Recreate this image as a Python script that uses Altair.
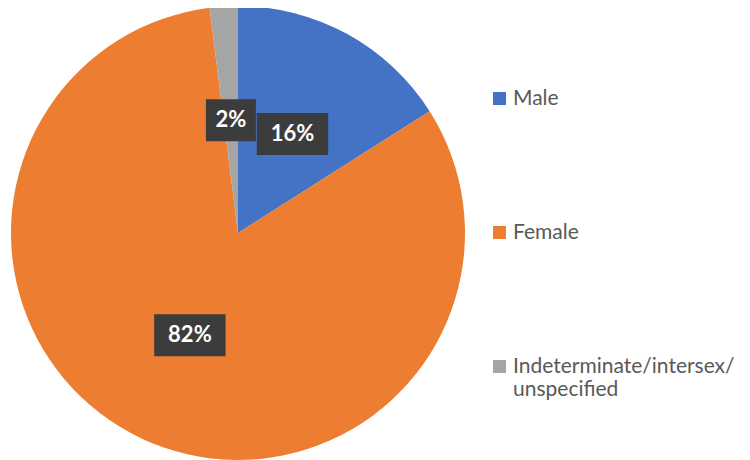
import altair as alt
import pandas as pd

categories = ["Male", "Female", "Indeterminate/intersex/unspecified"]
shares = [16, 82, 2]
labels = ["16%", "82%", "2%"]
colors = ["#4472C4", "#ED7D31", "#A5A5A5"]

df = pd.DataFrame({
    "category": categories,
    "share": shares,
    "label": labels,
    "order": list(range(len(categories))),
})

W, H, R, LR = 454, 450, 227, 113
NARROW = "M-1.19,-1L1.19,-1L1.19,1L-1.19,1Z"
WIDE = "M-1.7,-1L1.7,-1L1.7,1L-1.7,1Z"

base = alt.Chart(df)

pie = base.mark_arc(radius=R).encode(
    theta=alt.Theta("share:Q", stack=True),
    order=alt.Order("order:Q"),
    color=alt.Color(
        "category:N",
        scale=alt.Scale(domain=categories, range=colors),
        legend=alt.Legend(
            title=None, orient="none", legendX=478, legendY=80,
            symbolType="square", symbolSize=169, symbolStrokeWidth=0,
            labelFont="Lato", labelFontSize=21, labelColor="#595959",
            labelOffset=3, rowPadding=112, labelLimit=400, padding=0,
            labelExpr="datum.label == 'Indeterminate/intersex/unspecified' ? ['Indeterminate/intersex/', 'unspecified'] : datum.label",
        ),
    ),
)

lab = base.transform_joinaggregate(total="sum(share)").transform_window(
    cum="sum(share)", sort=[alt.SortField("order")], frame=[None, 0]
).transform_calculate(
    mid="(datum.cum - datum.share / 2) / datum.total * 2 * PI",
    lx=f"{LR} * sin(datum.mid)",
    ly=f"{LR} * cos(datum.mid)",
)

xenc = alt.X("lx:Q", scale=alt.Scale(domain=[-W / 2, W / 2], nice=False, zero=False), axis=None)
yenc = alt.Y("ly:Q", scale=alt.Scale(domain=[-H / 2, H / 2], nice=False, zero=False), axis=None)

boxes = lab.mark_point(filled=True, opacity=1, size=1764, color="#3C3C3C", strokeWidth=0).encode(
    x=xenc, y=yenc,
    shape=alt.Shape("label:N", scale=alt.Scale(domain=["2%", "16%", "82%"], range=[NARROW, WIDE, WIDE]), legend=None),
)

texts = lab.mark_text(font="Lato", fontSize=22, fontWeight="bold", color="white").encode(
    x=xenc, y=yenc, text="label:N"
)

chart = alt.layer(pie, boxes, texts).properties(
    width=W, height=H,
    autosize=alt.AutoSizeParams(type="none"),
    padding={"left": 3, "top": 0, "right": 277, "bottom": 4},
    view=alt.ViewBackground(stroke="transparent", strokeWidth=0),
).configure_view(stroke="transparent", strokeWidth=0).configure(background="white")

chart.save("out.html", embed_options={"renderer": "svg", "actions": False})
